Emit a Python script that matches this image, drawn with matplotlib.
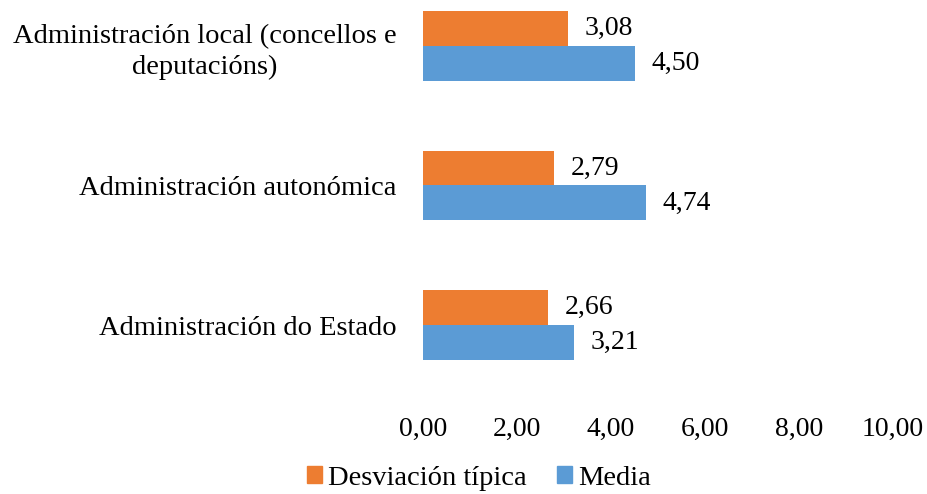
import numpy as np
import matplotlib.pyplot as plt
from matplotlib.patches import Patch

# Datos do gráfico
categorias = ['Administración do Estado',
              'Administración autonómica',
              'Administración local (concellos e\ndeputacións)']
media = [3.21, 4.74, 4.50]
desviacion = [2.66, 2.79, 3.08]
xticks = [0, 2, 4, 6, 8, 10]

cor_media = '#5B9BD5'
cor_desv = '#ED7D31'

plt.rcParams['font.family'] = ['Liberation Serif', 'DejaVu Serif']

fig = plt.figure(figsize=(9.27, 4.94), dpi=100)
# area do grafico en pixeles: x 423-893, y -24..395
ax = fig.add_axes([423 / 927, 99 / 494, 470 / 927, 419 / 494])

y = np.arange(len(categorias))
h = 0.25
ax.barh(y - h / 2, media, height=h, color=cor_media)
ax.barh(y + h / 2, desviacion, height=h, color=cor_desv)

def fmt(v):
    return f'{v:.2f}'.replace('.', ',')

for yi, v in zip(y, media):
    ax.annotate(fmt(v), (v, yi - h / 2), xytext=(12, 0), textcoords='offset points',
                ha='left', va='center', fontsize=20)
for yi, v in zip(y, desviacion):
    ax.annotate(fmt(v), (v, yi + h / 2), xytext=(12, 0), textcoords='offset points',
                ha='left', va='center', fontsize=20)

ax.set_xlim(0, 10)
ax.set_ylim(-0.5, 2.5)
ax.set_xticks(xticks)
ax.set_xticklabels([fmt(t) for t in xticks], fontsize=20)
ax.set_yticks(y)
ax.set_yticklabels(categorias, fontsize=20.5, multialignment='center', linespacing=1.32)
ax.tick_params(axis='both', length=0)
ax.tick_params(axis='y', pad=19)
ax.tick_params(axis='x', pad=16)
for s in ax.spines.values():
    s.set_visible(False)

handles = [Patch(color=cor_desv, label='Desviación típica'),
           Patch(color=cor_media, label='Media')]
fig.legend(handles=handles, loc='center', bbox_to_anchor=(479 / 927, 1 - 478 / 494),
           ncol=2, frameon=False, fontsize=20.5, handlelength=0.53, handleheight=0.53,
           handletextpad=0.21, columnspacing=1.05, borderpad=0, borderaxespad=0)

fig.savefig('out.png', dpi=100)
